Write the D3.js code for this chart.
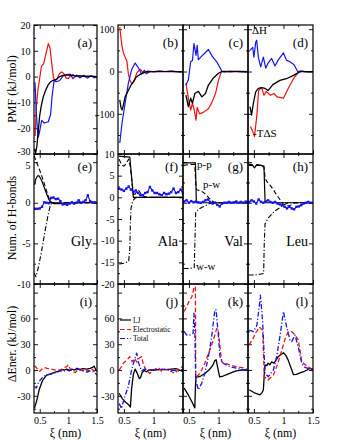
<!DOCTYPE html>
<html>
<head>
<meta charset="utf-8">
<script src="https://cdn.jsdelivr.net/npm/d3@7"></script>
<style>
  body { margin: 0; background: #fff; }
  svg { display: block; font-family: "Liberation Serif", "Times New Roman", serif; }
</style>
</head>
<body>
<svg id="chart" width="340" height="440"></svg>
<script>
// ---- data -------------------------------------------------------------
const residues = ['Gly', 'Ala', 'Val', 'Leu']
const tags = [['(a)', '(b)', '(c)', '(d)'], ['(e)', '(f)', '(g)', '(h)'], ['(i)', '(j)', '(k)', '(l)']]
const xMajor = [0.5, 1, 1.5]
const xMinor = [0.75, 1.25]
const xLabels = [[0.5, 1, 1.5], [0.5, 1], [0.5, 1], [0.5, 1, 1.5]]

// row 1: PMF (black), dH (blue), -TdS (red)  [xi, kJ/mol]
const pmfGly = [[0.41,-28],[0.43,-29.5],[0.45,-27],[0.47,-22],[0.50,-15],[0.53,-11],[0.56,-8],[0.60,-5.5],[0.64,-3.5],[0.68,-2.2],[0.72,-1.6],[0.78,-1.2],[0.85,0],[0.92,0.6],[1.0,0.6],[1.1,0.4],[1.3,0.2],[1.5,0]]
const dhGly = [[0.417,-2.2],[0.44,-14],[0.46,-20.4],[0.475,-23.5],[0.50,-21],[0.534,-17],[0.58,-18],[0.65,-17.5],[0.69,-14.6],[0.714,-8],[0.75,-1.6],[0.79,-2],[0.85,-1.5],[0.91,0.3],[0.97,0.8],[1.03,1],[1.08,-0.8],[1.14,0.6],[1.2,-0.5],[1.27,0.5],[1.33,-0.6],[1.4,0.4],[1.45,-0.5],[1.5,0]]
const tdsGly = [[0.42,-23],[0.44,-12],[0.47,-5],[0.50,-0.5],[0.53,4],[0.57,5],[0.61,9],[0.65,12.8],[0.68,11],[0.71,5],[0.74,-0.5],[0.77,-1.5],[0.80,-1],[0.84,1],[0.88,1.8],[0.92,1.2],[0.96,-0.5],[1.0,-0.8],[1.04,0.5],[1.08,0.8],[1.12,0],[1.2,0.3],[1.3,0],[1.4,0.2],[1.5,0]]

const pmfAla = [[0.43,-67],[0.45,-85],[0.47,-91],[0.49,-80],[0.52,-60],[0.575,-45],[0.62,-32],[0.66,-25],[0.71,-13],[0.76,-8],[0.80,-5],[0.88,-1],[0.95,0],[1.5,0]]
const dhAla = [[0.43,-169],[0.47,-120],[0.52,-75],[0.575,-28],[0.63,4],[0.69,20],[0.74,10],[0.80,-6],[0.845,3],[0.88,-5],[0.94,0],[1.0,-1],[1.1,1],[1.2,0],[1.3,1],[1.4,-1],[1.5,0]]
const tdsAla = [[0.43,105],[0.45,80],[0.47,58],[0.49,45],[0.52,34],[0.55,25],[0.575,-5],[0.60,-20],[0.63,-28],[0.66,-25],[0.69,-15],[0.72,-3],[0.75,2],[0.78,5],[0.81,0],[0.85,-2],[0.9,1],[1.0,0],[1.1,1],[1.2,0],[1.3,1],[1.4,0],[1.5,0]]

const pmfVal = [[0.45,-56],[0.49,-83],[0.53,-63],[0.56,-75],[0.60,-52],[0.66,-47],[0.72,-60],[0.78,-52],[0.83,-32],[0.91,-16],[1.0,-4],[1.06,0],[1.5,0]]
const dhVal = [[0.45,-32],[0.49,-20],[0.53,23],[0.56,26],[0.586,66],[0.62,38],[0.64,62],[0.66,28],[0.72,37],[0.78,45],[0.83,52],[0.89,37],[0.97,23],[1.03,8],[1.06,0],[1.1,-1],[1.2,1],[1.3,0],[1.4,-1],[1.5,0]]
const tdsVal = [[0.45,-28],[0.49,-63],[0.53,-91],[0.56,-75],[0.59,-91],[0.62,-115],[0.64,-85],[0.68,-100],[0.75,-96],[0.83,-88],[0.89,-73],[0.95,-52],[1.0,-21],[1.05,0],[1.1,1],[1.2,-1],[1.3,1],[1.5,0]]

const pmfLeu = [[0.434,-83],[0.46,-103],[0.49,-76],[0.53,-48],[0.575,-40],[0.63,-38],[0.69,-40],[0.74,-45],[0.82,-31],[0.94,-21],[1.05,-17],[1.17,-9],[1.26,-2],[1.3,0],[1.5,0]]
const dhLeu = [[0.434,50],[0.48,57],[0.50,34],[0.53,69],[0.547,74],[0.575,34],[0.615,11],[0.66,34],[0.70,8],[0.74,20],[0.80,31],[0.857,13],[0.91,27],[1.0,44],[1.05,27],[1.11,23],[1.18,16],[1.24,0],[1.3,1],[1.4,-1],[1.5,0]]
const tdsLeu = [[0.44,-130],[0.48,-142],[0.51,-154],[0.55,-103],[0.58,-45],[0.63,-38],[0.67,-56],[0.71,-47],[0.78,-56],[0.84,-52],[0.89,-60],[1.0,-63],[1.08,-40],[1.17,-17],[1.26,0],[1.3,1],[1.4,-1],[1.5,0]]

// row 2: H-bond changes p-p (solid), p-w (dashed), w-w (dash-dot), blue markers
const ppGly = [[0.41,2.2],[0.43,2.9],[0.46,3.3],[0.49,3.3],[0.53,2.8],[0.575,1.95],[0.62,1.1],[0.66,0.4],[0.69,0.05],[0.75,-0.1],[0.85,-0.1],[0.95,0],[1.5,0]]
const pwGly = [[0.40,5.8],[0.45,4.9],[0.50,4.0],[0.55,3.0],[0.60,1.9],[0.65,0.8],[0.68,0.2],[0.72,0],[1.5,0]]
const wwGly = [[0.40,-8.6],[0.434,-9.1],[0.475,-8],[0.534,-5.9],[0.59,-3.6],[0.65,-1.35],[0.69,-0.2],[0.72,0],[1.5,0]]

const ppAla = [[0.41,9.5],[0.5,9.4],[0.6,9.3],[0.615,7],[0.63,4.7],[0.66,0],[1.5,0]]
const pwAla = [[0.42,8.8],[0.46,7.5],[0.50,7.2],[0.54,7.8],[0.58,8.8],[0.61,7],[0.64,3],[0.67,0.3],[0.70,1.0],[0.74,1.8],[0.78,1.0],[0.82,0.3],[0.9,0],[1.5,0]]
const wwAla = [[0.42,-15.4],[0.5,-15.2],[0.58,-14.8],[0.60,-12],[0.61,-6],[0.62,-2.5],[0.645,-1],[0.68,-0.3],[0.72,0],[1.5,0]]

const ppVal = [[0.41,4.9],[0.5,4.9],[0.61,4.9],[0.62,2],[0.625,0],[1.5,0]]
const pwVal = [[0.41,4.6],[0.5,4.7],[0.6,4.7],[0.615,2.5],[0.63,1.6],[0.68,1.5],[0.74,1.3],[0.80,0.9],[0.86,0.4],[0.92,0.1],[1.0,0],[1.5,0]]
const wwVal = [[0.41,-8.1],[0.5,-8.1],[0.59,-8.0],[0.605,-4],[0.615,-1.2],[0.66,-0.8],[0.74,-0.5],[0.82,-0.2],[0.88,0],[1.5,0]]

const ppLeu = [[0.41,4.76],[0.47,4.7],[0.51,4.3],[0.55,4.7],[0.62,4.6],[0.67,4.5],[0.685,1],[0.69,0],[1.5,0]]
const pwLeu = [[0.41,4.6],[0.6,4.6],[0.67,4.4],[0.69,3.0],[0.72,2.6],[0.77,2.2],[0.83,1.6],[0.88,1.0],[0.94,0.4],[1.0,-0.2],[1.06,-0.4],[1.12,-0.3],[1.2,0],[1.5,0]]
const wwLeu = [[0.41,-8.9],[0.5,-8.9],[0.6,-8.8],[0.665,-8.7],[0.675,-5],[0.688,-2.6],[0.744,-1.85],[0.857,-1.0],[1.0,-0.3],[1.08,0],[1.5,0]]

const hbXi = [0.42,0.46,0.50,0.54,0.58,0.62,0.66,0.70,0.74,0.78,0.82,0.86,0.90,0.94,0.98,1.02,1.06,1.10,1.14,1.18,1.22,1.26,1.30,1.34,1.38,1.42,1.46,1.50]
const hbGly = [-0.75,-0.75,-0.7,-0.5,0.05,0,-0.05,0.6,0.65,0.45,0.5,0.2,-0.2,-0.15,-0.25,-0.1,0.05,-0.1,0,0.3,0,0.1,0.3,0.9,0.2,0.05,0.05,0]
const hbAla = [2.0,1.8,1.5,2.0,2.5,1.8,1.2,1.6,1.0,0.5,0.5,1.0,1.2,2.4,1.6,1.0,1.0,0.7,0.5,1.0,0.7,0.85,1.2,2.0,1.0,1.2,1.8,0.85]
const hbVal = [0.15,0.3,0,0.2,0.05,0.15,0.05,0,0.1,0.3,0.4,0.1,-0.1,0,-0.25,-0.45,-0.1,0,0,0.1,0,0.05,0.15,0,0.1,0,0.15,0.05]
const hbLeu = [0.1,0.3,0.15,-0.1,0.4,0.1,0,0.15,0.3,0.1,0,0.1,-0.1,-0.2,-0.3,-0.5,-0.7,-0.5,-0.7,-0.8,-0.5,-0.45,-0.3,-0.1,0,0.1,0,0]

// row 3: energy changes LJ (black), Electrostatic (red dashed), Total (blue dash-dot)
const ljGly = [[0.41,-44],[0.45,-35],[0.49,-23],[0.55,-12],[0.62,-6],[0.71,-4],[0.80,-2],[0.88,0.5],[0.93,0],[0.97,1],[1.02,-0.5],[1.06,1],[1.11,0],[1.15,2],[1.20,0.5],[1.25,1.5],[1.32,1],[1.38,2],[1.42,3],[1.45,4.6],[1.48,0],[1.5,-1]]
const elGly = [[0.41,5],[0.44,3],[0.47,0],[0.50,-1.5],[0.54,1],[0.58,3],[0.63,2],[0.68,1.5],[0.74,0.5],[0.80,-0.5],[0.86,0],[0.92,2.5],[0.97,4],[1.0,6],[1.04,0],[1.08,-2],[1.12,-3],[1.16,0],[1.20,1],[1.25,-1],[1.30,0.5],[1.35,-1],[1.40,1.5],[1.45,-1],[1.5,-2]]
const totGly = [[0.41,-19],[0.44,-21],[0.48,-14],[0.53,-10],[0.58,-7],[0.62,-6],[0.68,-5],[0.74,-4],[0.80,-2.5],[0.86,-1],[0.92,-1.5],[0.97,0],[1.02,-1],[1.07,0.5],[1.12,-0.5],[1.17,1],[1.22,-0.5],[1.28,-1],[1.33,-2.5],[1.38,-1],[1.42,-1.5],[1.46,-3],[1.5,-6]]

const ljAla = [[0.42,-27],[0.47,-33],[0.52,-37],[0.575,-40],[0.61,-43],[0.63,-22],[0.66,-5],[0.69,1],[0.72,-3],[0.76,-10],[0.78,-9],[0.81,-3],[0.845,-0.5],[0.88,-2],[0.92,0],[1.0,0],[1.1,0.5],[1.2,0.5],[1.3,1],[1.38,1.5],[1.44,0],[1.5,-2]]
const elAla = [[0.42,0],[0.46,4],[0.49,8],[0.55,11.5],[0.60,15.5],[0.64,9.5],[0.68,13.5],[0.72,9],[0.76,14],[0.80,15.5],[0.83,6],[0.885,-1],[0.94,-4],[0.98,0],[1.03,1],[1.08,3],[1.14,-1.5],[1.18,1],[1.22,0.5],[1.27,-1],[1.31,-2],[1.365,-4],[1.42,1],[1.46,3],[1.5,4]]
const totAla = [[0.42,-39],[0.46,-45],[0.50,-34],[0.575,-19],[0.63,0],[0.676,11],[0.716,19.5],[0.75,8],[0.80,-1],[0.85,1],[0.9,-1],[0.97,0],[1.05,0],[1.14,1],[1.25,0],[1.33,-0.5],[1.42,-1],[1.5,1]]

const ljVal = [[0.42,-21],[0.49,-29],[0.55,-37],[0.60,-44],[0.61,-20],[0.62,-8],[0.66,-8],[0.70,-7],[0.77,-4],[0.84,0],[0.90,5],[0.94,11],[0.96,12],[0.99,2],[1.02,-8],[1.08,-7],[1.15,-5],[1.22,-3],[1.3,-1],[1.4,0],[1.5,0]]
const elVal = [[0.42,68],[0.46,73.6],[0.51,81],[0.55,85],[0.586,96],[0.61,97],[0.615,-8],[0.66,-6],[0.716,0],[0.77,7.8],[0.83,19],[0.885,29],[0.94,40.7],[0.97,48.4],[1.0,44.6],[1.026,27],[1.054,9.7],[1.11,7.8],[1.195,5.8],[1.31,3.9],[1.45,2],[1.5,0]]
const totVal = [[0.42,44.6],[0.46,40.7],[0.52,40.7],[0.57,42.6],[0.586,66],[0.60,46.5],[0.615,-11.6],[0.66,-23],[0.716,-15.5],[0.77,-3.9],[0.83,15.5],[0.885,38.8],[0.94,70],[0.96,70],[1.0,38.8],[1.026,15.5],[1.08,7.8],[1.195,3.9],[1.31,2],[1.45,0],[1.5,0]]

const ljLeu = [[0.42,-23],[0.47,-25],[0.52,-27],[0.57,-28],[0.60,-29],[0.64,-26],[0.66,-23],[0.68,0],[0.69,6],[0.72,5],[0.74,8],[0.77,6],[0.80,9.5],[0.84,8],[0.88,12],[0.91,15.5],[0.96,18],[1.0,20],[1.04,17],[1.08,11.5],[1.13,2],[1.17,-5.5],[1.22,-5],[1.26,-4],[1.34,-2],[1.4,0],[1.45,2],[1.5,1]]
const elLeu = [[0.42,29],[0.49,37],[0.52,42.6],[0.55,45],[0.59,50],[0.62,48],[0.648,46.5],[0.676,-7.8],[0.74,-11.6],[0.83,-5.8],[0.885,3.9],[0.94,15.5],[1.03,36.8],[1.08,44.6],[1.14,44.6],[1.195,40.7],[1.25,35],[1.31,9.7],[1.39,4.7],[1.5,0]]
const totLeu = [[0.42,46.5],[0.49,44.6],[0.55,52],[0.59,73.6],[0.61,87],[0.648,56],[0.688,-3.9],[0.744,-7.8],[0.83,0],[0.885,15.5],[0.94,38.8],[1.0,68],[1.054,50],[1.11,35],[1.14,33],[1.195,40.7],[1.25,27],[1.31,7.8],[1.364,3],[1.5,0]]

// y axis specs
const specPmfGly = { domain: [-30, 20], major: [-30, -20, -10, 0, 10, 20], minor: [-25, -15, -5, 5, 15] }
const specPmf = { domain: [-195, 110], major: [-100, 0, 100], minor: [-150, -50, 50] }
const specHb = { domain: [-10, 6], major: [-10, -5, 0, 5], minor: [-7.5, -2.5, 2.5] }
const specHbAla = { domain: [-20, 10], major: [-20, -15, -10, -5, 0, 5, 10], minor: [-17.5, -12.5, -7.5, -2.5, 2.5, 7.5] }
const specEner = { domain: [-50, 100], major: [-30, 0, 30, 60, 90], minor: [-45, -15, 15, 45, 75], labels: [-30, 0, 30, 60] }

// ---- layout -----------------------------------------------------------
const colX = [34, 118, 183, 248], colW = [63, 65, 65, 65]
const rowY = [25, 154, 284], rowH = [129, 130, 129]
const RED = '#f01010', BLUE = '#1414f0'
const DASH = '4.5,2.5', DASHDOT = '5,2,1.2,2'

const rows = [
  { spec: [specPmfGly, specPmf, specPmf, specPmf],
    series: [[pmfGly, dhGly, tdsGly], [pmfAla, dhAla, tdsAla], [pmfVal, dhVal, tdsVal], [pmfLeu, dhLeu, tdsLeu]],
    styles: [{ c: '#000', w: 1.3 }, { c: BLUE, w: 1.2 }, { c: RED, w: 1.2 }] },
  { spec: [specHb, specHbAla, specHb, specHb],
    series: [[ppGly, pwGly, wwGly], [ppAla, pwAla, wwAla], [ppVal, pwVal, wwVal], [ppLeu, pwLeu, wwLeu]],
    hb: [hbGly, hbAla, hbVal, hbLeu],
    styles: [{ c: '#000', w: 1.2 }, { c: '#000', w: 1.1, d: DASH }, { c: '#000', w: 1.1, d: DASHDOT }] },
  { spec: [specEner, specEner, specEner, specEner],
    series: [[ljGly, elGly, totGly], [ljAla, elAla, totAla], [ljVal, elVal, totVal], [ljLeu, elLeu, totLeu]],
    styles: [{ c: '#000', w: 1.3 }, { c: RED, w: 1.3, d: DASH }, { c: BLUE, w: 1.3, d: DASHDOT }] }
]
const tagDy = [22, 17, 22]

const svg = d3.select('#chart')
const defs = svg.append('defs')

function styleAxis(g) {
  g.select('.domain').remove()
  g.attr('font-family', null).attr('font-size', 10)
  g.selectAll('line').attr('stroke-width', 0.9)
}

rows.forEach((row, r) => {
  for (let c = 0; c < 4; c += 1) {
    const x0 = colX[c], w = colW[c], y0 = rowY[r], h = rowH[r]
    const spec = row.spec[c]
    const x = d3.scaleLinear().domain([0.4, 1.5]).range([x0, x0 + w])
    const y = d3.scaleLinear().domain(spec.domain).range([y0 + h, y0])
    const g = svg.append('g')

    const clipId = 'clip-' + r + '-' + c
    defs.append('clipPath').attr('id', clipId)
      .append('rect').attr('x', x0).attr('y', y0).attr('width', w).attr('height', h)

    // ticks: bottom / top
    const showX = r === 2 ? xLabels[c] : []
    g.append('g').attr('transform', `translate(0,${y0 + h})`)
      .call(d3.axisBottom(x).tickValues(xMajor).tickSize(-4).tickSizeOuter(0).tickPadding(4)
        .tickFormat(d => showX.includes(d) ? d3.format('')(d) : ''))
      .call(styleAxis)
    g.append('g').attr('transform', `translate(0,${y0 + h})`)
      .call(d3.axisBottom(x).tickValues(xMinor).tickSize(-2).tickSizeOuter(0).tickFormat(''))
      .call(styleAxis)
    g.append('g').attr('transform', `translate(0,${y0})`)
      .call(d3.axisTop(x).tickValues(xMajor.filter(v => v < 1.5)).tickSize(-4).tickSizeOuter(0).tickFormat(''))
      .call(styleAxis)
    g.append('g').attr('transform', `translate(0,${y0})`)
      .call(d3.axisTop(x).tickValues(xMinor).tickSize(-2).tickSizeOuter(0).tickFormat(''))
      .call(styleAxis)

    // ticks: left / right
    const showY = c < 2 ? (spec.labels || spec.major) : []
    const yAx = g.append('g').attr('transform', `translate(${x0},0)`)
      .call(d3.axisLeft(y).tickValues(spec.major).tickSize(-4).tickSizeOuter(0).tickPadding(3.5)
        .tickFormat(d => showY.includes(d) ? d3.format('')(d).replace('−', '-') : ''))
      .call(styleAxis)
    // the lowest PMF label sits right above the H-bond "5"; nudge them apart a little
    if (r === 0 && c === 0) yAx.selectAll('text').filter(d => d === -30).attr('dy', '0.05em')
    if (r === 1 && c === 0) yAx.selectAll('text').filter(d => d === 5).attr('dy', '0.62em')
    g.append('g').attr('transform', `translate(${x0},0)`)
      .call(d3.axisLeft(y).tickValues(spec.minor).tickSize(-2).tickSizeOuter(0).tickFormat(''))
      .call(styleAxis)
    g.append('g').attr('transform', `translate(${x0 + w},0)`)
      .call(d3.axisRight(y).tickValues(spec.major).tickSize(-4).tickSizeOuter(0).tickFormat(''))
      .call(styleAxis)
    g.append('g').attr('transform', `translate(${x0 + w},0)`)
      .call(d3.axisRight(y).tickValues(spec.minor).tickSize(-2).tickSizeOuter(0).tickFormat(''))
      .call(styleAxis)

    // curves
    const plot = g.append('g').attr('clip-path', `url(#${clipId})`)
    const line = d3.line().x(d => x(d[0])).y(d => y(d[1]))
    const order = r === 0 ? [2, 1, 0] : [0, 1, 2]
    order.forEach(k => {
      const s = row.styles[k]
      plot.append('path')
        .datum(row.series[c][k])
        .attr('d', line)
        .attr('fill', 'none')
        .attr('stroke', s.c)
        .attr('stroke-width', s.w)
        .attr('stroke-dasharray', s.d || null)
        .attr('stroke-linejoin', 'round')
    })
    if (row.hb) {
      const pts = hbXi.map((v, i) => [v, row.hb[c][i]])
      plot.append('path').datum(pts).attr('d', line)
        .attr('fill', 'none').attr('stroke', BLUE).attr('stroke-width', 1.1)
      plot.selectAll('.hbPt').data(pts).enter().append('rect')
        .attr('class', 'hbPt')
        .attr('x', d => x(d[0]) - 1.2).attr('y', d => y(d[1]) - 1.2)
        .attr('width', 2.4).attr('height', 2.4)
        .attr('fill', BLUE)
    }

    // frame
    g.append('rect').attr('x', x0).attr('y', y0).attr('width', w).attr('height', h)
      .attr('fill', 'none').attr('stroke', '#000').attr('stroke-width', 1.2)

    // panel tag
    g.append('text').attr('x', x0 + w - 5).attr('y', y0 + tagDy[r])
      .attr('text-anchor', 'end').attr('font-size', 13).text(tags[r][c])

    if (r === 1) {
      g.append('text').attr('x', x0 + w - 5).attr('y', y0 + 92)
        .attr('text-anchor', 'end').attr('font-size', 14).text(residues[c])
    }
    if (r === 2) {
      g.append('text').attr('x', x0 + w / 2).attr('y', 437)
        .attr('text-anchor', 'middle').attr('font-size', 12).text('ξ (nm)')
    }
  }
})

// annotations
svg.append('text').attr('x', 252).attr('y', 34).attr('font-size', 11).text('ΔH')
svg.append('text').attr('x', 253).attr('y', 137).attr('font-size', 11).text('-TΔS')
svg.append('text').attr('x', 197).attr('y', 168).attr('font-size', 11).text('p-p')
svg.append('text').attr('x', 203).attr('y', 188).attr('font-size', 11).text('p-w')
svg.append('text').attr('x', 196).attr('y', 270).attr('font-size', 11).text('w-w')

// legend in (j)
const legendItems = ['LJ', 'Electrostatic', 'Total']
const legendY = [320, 329.5, 338.5]
legendItems.forEach((name, i) => {
  const s = rows[2].styles[i]
  svg.append('line').attr('x1', 120).attr('x2', 131).attr('y1', legendY[i]).attr('y2', legendY[i])
    .attr('stroke', s.c).attr('stroke-width', 1.2).attr('stroke-dasharray', s.d || null)
  svg.append('text').attr('x', 133).attr('y', legendY[i] + 2.5).attr('font-size', 7.5).text(name)
})

// axis titles
const titles = ['PMF (kJ/mol)', 'Num. of H-bonds', 'ΔEner. (kJ/mol)']
const titleY = [89, 218, 344]
titles.forEach((t, i) => {
  svg.append('text').attr('transform', `translate(16,${titleY[i]}) rotate(-90)`)
    .attr('text-anchor', 'middle').attr('font-size', 12).text(t)
})
</script>
</body>
</html>
